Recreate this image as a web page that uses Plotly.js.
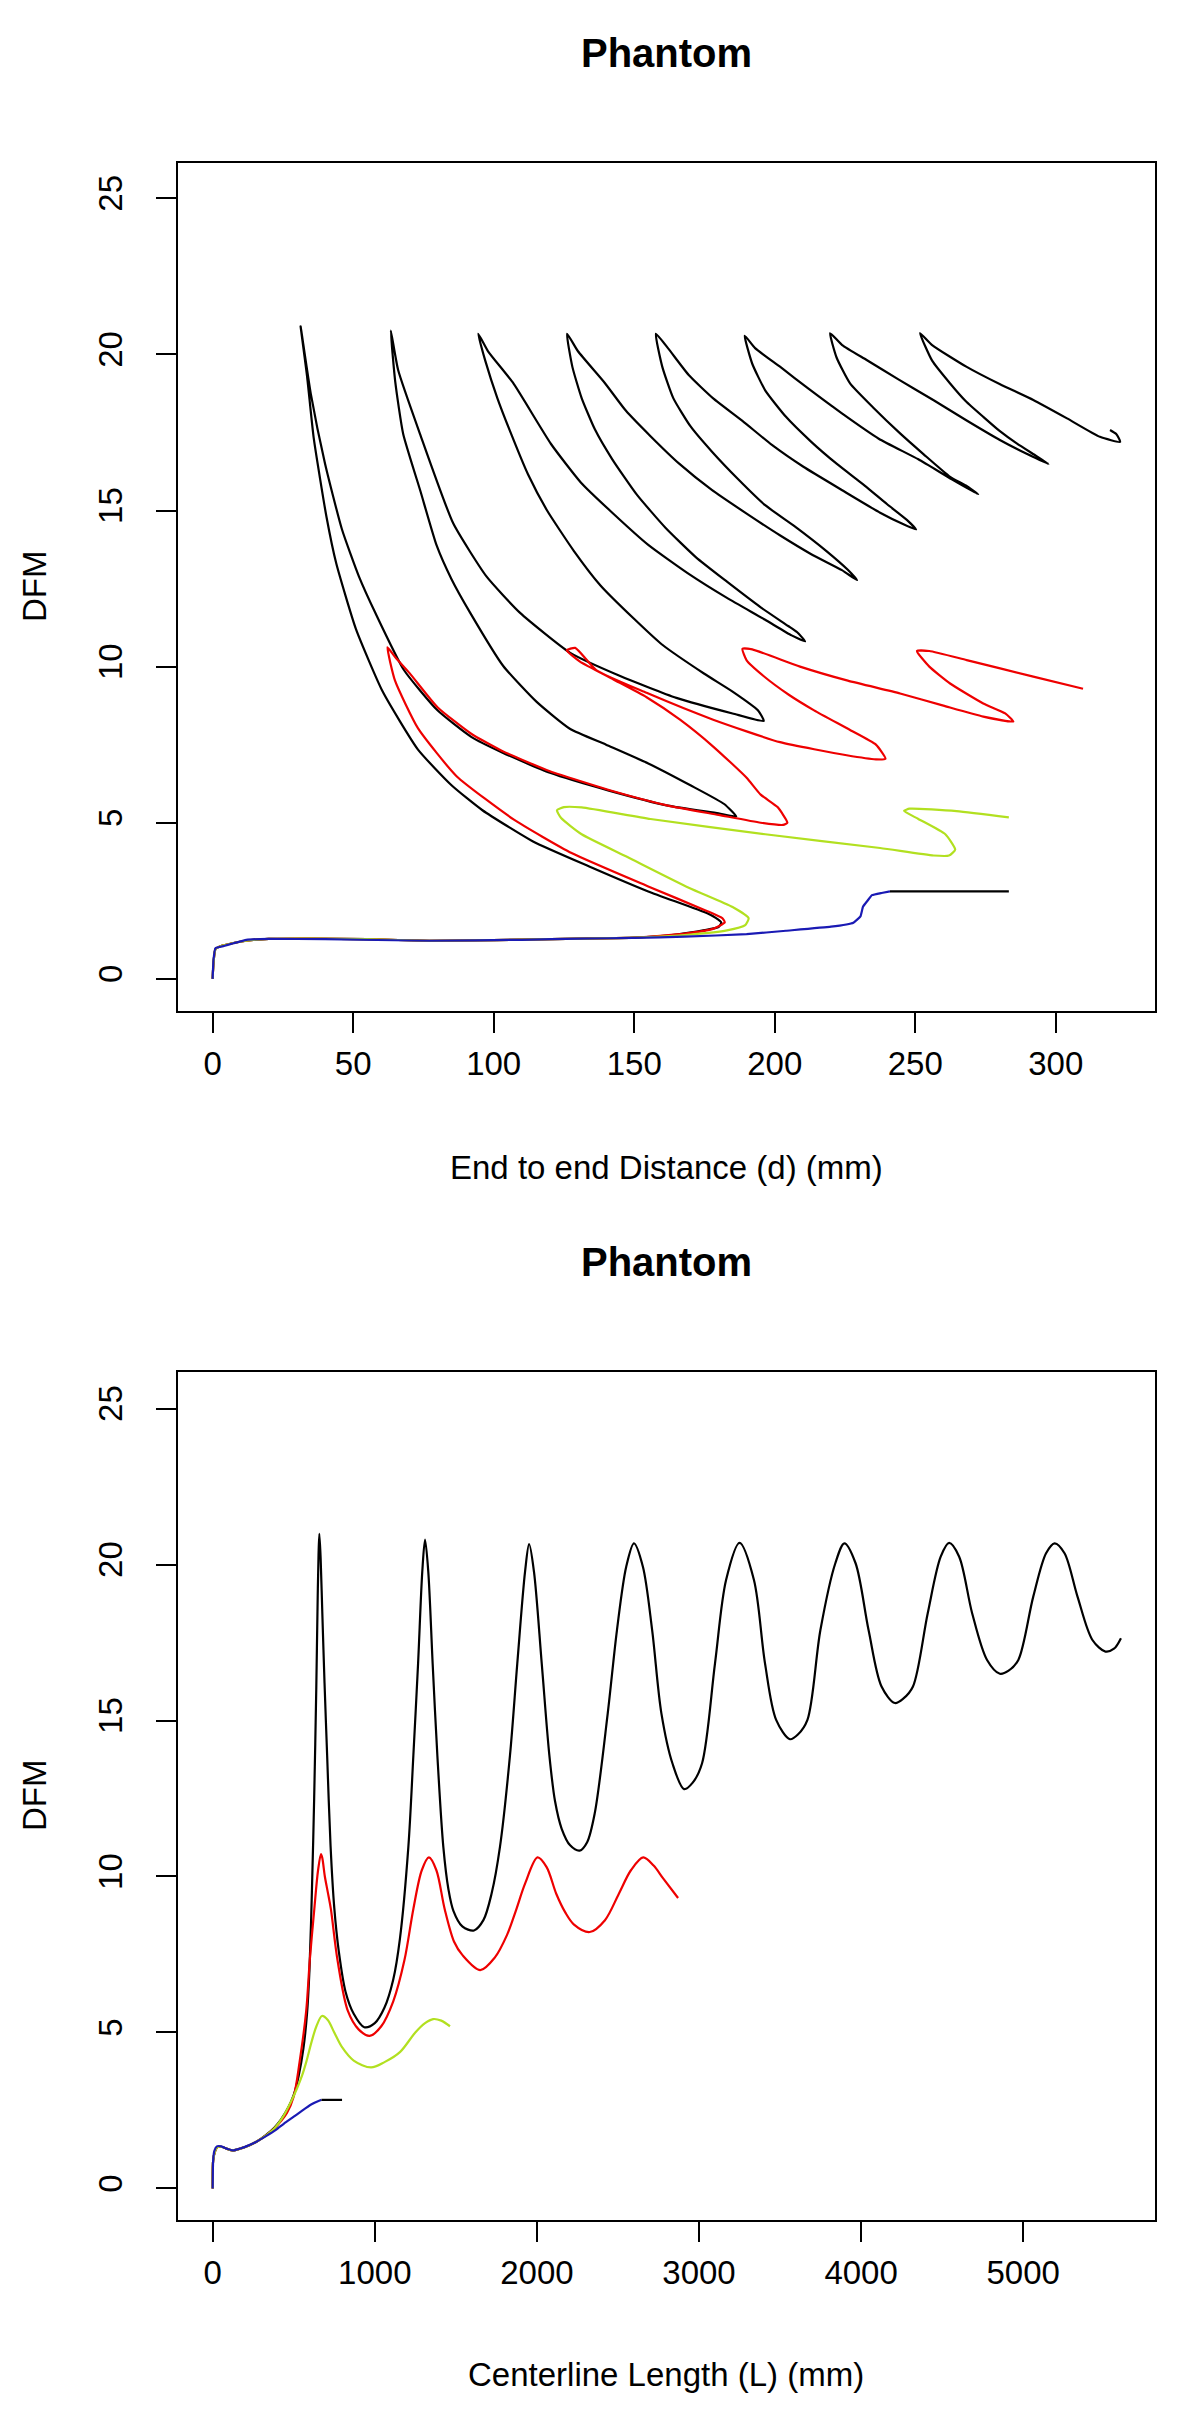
<!DOCTYPE html>
<html>
<head>
<meta charset="utf-8">
<script src="https://cdn.plot.ly/plotly-3.0.1.min.js"></script>
<style>
html,body{margin:0;padding:0;background:#fff;}
#chart{width:1200px;height:2427px;}
</style>
</head>
<body>
<div id="chart"></div>
<script>
// ---------- Panel 1: DFM vs end-to-end distance d (mm) ----------
var blackD = [0,0.3,1,3,7,12,20,35,55,77,100,131,150,165,175,180,181,179,176,155,134,114,96,85,73,60.5,51,44,40.5,36,33.6,31.3,
  34.9,40,46,52,58,68,80,92,103,120,141,162,180,186.3,
  182,170,155,140,127.1,115.3,103.4,91.6,85,79.7,74,67.8,65,63.4,
  66,73.8,85.6,97.5,109.3,127.1,145,165,185,196.1,
  194,185,174.8,160,150.3,138,128.5,119,112.2,106,101.3,97,94.5,
  98,106.8,120.4,131,142.2,155,169.4,183,196.6,206,210.8,
  208,204.8,195,183,172,161.2,151,142.2,136,131.3,128,126.1,
  130,139.4,147,155.8,166,177.6,190,202.1,213,223.9,229.3,
  226,218.4,207,196.6,187,177.6,170,163.9,160,157.7,
  162,169.4,178,188.5,199,210.2,224,237.5,246,250.3,
  247,240,232,222,213,204,196.6,192,189.3,
  193,202.1,212,223.9,237,251.1,263,272.4,
  268,262.4,253,244.6,235,226.8,222,219.7,
  224,232.7,244,256.4,268,280.1,290,297.4,
  293,286.1,280,274.2,268,262.4,256,251.7,
  256,268.3,280,292,304,315.7,322.9,321.5,319.3];
var blackDFM1 = [0,0.5,0.95,1.05,1.14,1.22,1.28,1.29,1.27,1.22,1.24,1.29,1.32,1.42,1.56,1.66,1.8,1.95,2.1,2.8,3.6,4.4,5.4,6.2,7.35,9.2,11.2,13.3,14.8,17.3,19.3,20.9,
  18.75,16.5,14.4,12.9,11.7,9.9,8.6,7.75,7.25,6.6,6.03,5.55,5.3,5.2,
  5.6,6.2,6.9,7.5,8.01,8.87,10.02,11.73,12.8,13.88,15.6,17.45,19.1,20.76,
  19.5,17.45,14.59,12.88,11.73,10.45,9.7,9.0,8.5,8.26,
  8.6,9.2,9.78,10.7,11.5,12.6,13.71,15.0,16.16,17.5,18.6,19.8,20.66,
  20.1,19.1,17.13,15.9,14.93,13.9,12.97,12.2,11.5,11.0,10.81,
  11.1,11.3,11.9,12.72,13.5,14.44,15.5,16.64,17.6,18.6,19.6,20.66,
  20.1,19.1,18.2,17.38,16.5,15.66,14.9,14.19,13.6,13.09,12.77,
  13.1,13.7,14.5,15.17,16.0,16.89,17.7,18.6,19.6,20.66,
  20.2,19.34,18.6,17.87,17.1,16.4,15.65,14.93,14.55,14.39,
  14.7,15.2,15.8,16.5,17.2,18.0,18.85,19.7,20.6,
  20.2,19.59,18.9,18.11,17.3,16.64,16.0,15.52,
  15.8,16.08,16.8,17.47,18.3,19.07,19.9,20.68,
  20.3,19.82,19.2,18.54,17.9,17.26,16.8,16.49,
  16.75,17.15,17.55,18.0,18.5,19.07,19.8,20.68,
  20.3,19.6,19.05,18.54,17.95,17.36,17.2,17.45,17.58];

var redD = [0,0.3,1,3,7,12,20,35,55,77,100,131,150,168,178,182.2,181.4,175.4,155,127.7,107.2,86.8,73.1,64.9,62.2,
  65,70,80,92,103,120,141,162,180,195,203,204.5,
  201,195,190,178.1,166.3,154.4,142.6,130.7,126,
  129,136.6,154.4,178.1,201.9,225.6,236,239.4,
  236,226.8,214,205,196,190,188.5,
  192,209,226,244.6,260,274.2,284.9,
  282,274.2,262.4,255,250.6,
  255,268.3,292,309.7];
var redDFM1 = [0,0.5,0.95,1.05,1.14,1.22,1.28,1.29,1.27,1.22,1.24,1.29,1.32,1.45,1.6,1.81,1.94,2.19,2.96,4.03,5.1,6.49,8.02,9.55,10.62,
  10.3,9.8,8.7,7.85,7.3,6.65,6.05,5.55,5.25,5.0,4.93,5.0,
  5.5,5.9,6.44,7.44,8.3,9.02,9.59,10.16,10.52,
  10.6,9.88,9.16,8.3,7.58,7.16,7.03,7.05,
  7.5,7.97,8.6,9.1,9.7,10.2,10.57,
  10.55,10.0,9.55,9.14,8.75,8.4,8.24,
  8.5,8.82,9.46,10.0,10.5,
  10.5,10.21,9.68,9.29];

var greenD = [0,0.3,1,3,7,12,20,35,55,77,100,131,150,170,183,189.5,190.7,185,169.4,147.6,131.3,124,122.5,125,131.3,155.8,196.6,237.5,256.5,262,264.2,260.7,251.1,246,248,264.7,283.3];
var greenDFM1 = [0,0.5,0.95,1.05,1.14,1.22,1.28,1.29,1.27,1.22,1.24,1.29,1.32,1.42,1.55,1.72,1.94,2.3,2.92,3.9,4.63,5.15,5.4,5.5,5.49,5.12,4.63,4.19,3.95,3.95,4.14,4.63,5.12,5.38,5.45,5.37,5.17];

var blueD = [0,0.3,1,4,7.4,12,20,40,77,110,131,150,168,190,204,220,228,230.5,231.4,233,234.6,238,241];
var blueDFM1 = [0,0.6,0.98,1.05,1.14,1.25,1.28,1.27,1.22,1.25,1.29,1.31,1.35,1.43,1.54,1.67,1.8,2.0,2.31,2.5,2.68,2.75,2.8];
var blueTailD = [241,283.3];
var blueTailDFM1 = [2.8,2.8];

// ---------- Panel 2: DFM vs centerline length L (mm) ----------
var blackL = [0,3,15,30,60,120,200,270,330,380,420,467,500,530,560,582,597,612,626,639,648,653,658,666,676,690,706,727,750,778,820,870,935,1000,1060,1114,1155,1207,1238,1267,1293,1310,1330,1357,1386,1423,1454,1485,1540,1612,1670,1721,1772,1834,1879,1927,1952,1982,2030,2077,2112,2153,2205,2264,2310,2357,2437,2494,2551,2599,2654,2711,2768,2836,2908,2960,3019,3099,3167,3250,3339,3407,3476,3561,3610,3669,3749,3841,3897,3966,4046,4126,4208,4260,4320,4411,4491,4543,4605,4685,4777,4856,4910,4970,5062,5141,5194,5255,5335,5427,5507,5560,5603];
var blackDFM2 = [0,0.9,1.2,1.33,1.33,1.22,1.33,1.5,1.72,1.95,2.2,2.6,3.0,3.6,4.5,5.6,7.0,9.5,12.5,16.0,19.0,20.3,20.98,20.2,18.5,16.2,13.9,11.0,9.0,7.6,6.3,5.6,5.17,5.3,5.8,6.7,8.0,10.94,13.88,16.82,19.77,20.8,19.77,16.82,13.88,10.94,9.6,8.9,8.4,8.27,8.6,9.46,10.94,13.88,16.82,19.77,20.65,19.77,16.82,13.88,12.41,11.53,11.0,10.83,11.1,12.03,15.23,17.9,19.93,20.68,19.93,17.9,15.23,13.63,12.8,13.0,13.63,16.84,19.5,20.69,19.5,16.84,15.02,14.4,14.55,15.02,17.9,20.04,20.68,20.04,17.9,16.09,15.56,15.7,16.09,18.44,20.25,20.69,20.25,18.44,16.94,16.5,16.6,16.94,18.97,20.36,20.68,20.36,18.97,17.58,17.21,17.3,17.64];

var redL = [0,3,15,30,60,120,200,270,330,380,420,458,500,536,577,599,627,650,668,676,692,710,729,770,834,900,968,1040,1114,1183,1238,1290,1334,1380,1431,1490,1541,1651,1740,1816,1870,1927,2004,2060,2120,2175,2229,2326,2420,2505,2580,2656,2720,2780,2871];
var redDFM2 = [0,0.9,1.2,1.33,1.33,1.22,1.33,1.5,1.7,1.92,2.15,2.42,2.95,4.05,5.69,7.32,8.96,10.2,10.72,10.6,10.0,9.5,8.96,7.32,5.69,5.1,4.89,5.2,6.0,7.32,8.96,10.2,10.61,10.2,8.96,7.9,7.48,7.0,7.4,8.13,8.9,9.77,10.61,10.3,9.44,8.85,8.46,8.22,8.6,9.44,10.2,10.61,10.35,9.93,9.31];

var greenL = [0,3,15,30,60,120,200,270,330,380,440,480,522,550,577,610,640,674,710,750,798,870,977,1060,1155,1250,1310,1360,1410,1464];
var greenDFM2 = [0,0.9,1.2,1.33,1.33,1.22,1.33,1.5,1.7,1.92,2.35,2.75,3.23,3.6,4.05,4.7,5.2,5.53,5.4,5.0,4.53,4.1,3.88,4.05,4.37,5.0,5.3,5.43,5.38,5.2];

var blueL = [0,3,10,26,53,90,123,170,207,270,329,390,440,500,550,610,660,671];
var blueDFM2 = [0,0.9,1.2,1.35,1.35,1.27,1.22,1.28,1.35,1.5,1.68,1.88,2.08,2.3,2.49,2.7,2.82,2.84];
var blueTailL = [671,798];
var blueTailDFM2 = [2.84,2.84];

var xTicks1 = [0,50,100,150,200,250,300];
var xTicks2 = [0,1000,2000,3000,4000,5000];
var yTicks = [0,5,10,15,20,25];

var colBlack = '#000000', colRed = '#ee0000', colGreen = '#b2e020', colBlue = '#1a1ab4';
var LW = 2.2;

function tr(x, y, c, xa, ya, sm) {
  return {x: x, y: y, type: 'scatter', mode: 'lines',
          line: {color: c, width: LW, shape: 'spline', smoothing: sm},
          xaxis: xa, yaxis: ya, hoverinfo: 'skip'};
}

var data = [
  tr(blackD, blackDFM1, colBlack, 'x', 'y', 0.5),
  tr(redD, redDFM1, colRed, 'x', 'y', 0.5),
  tr(greenD, greenDFM1, colGreen, 'x', 'y', 0.5),
  tr(blueD, blueDFM1, colBlue, 'x', 'y', 0.3),
  tr(blueTailD, blueTailDFM1, colBlack, 'x', 'y', 0),
  tr(blackL, blackDFM2, colBlack, 'x2', 'y2', 0.9),
  tr(redL, redDFM2, colRed, 'x2', 'y2', 0.9),
  tr(greenL, greenDFM2, colGreen, 'x2', 'y2', 0.9),
  tr(blueL, blueDFM2, colBlue, 'x2', 'y2', 0.6),
  tr(blueTailL, blueTailDFM2, colBlack, 'x2', 'y2', 0)
];

var W = 1200, H = 2427;
var FONT = 'Liberation Sans, Arial, Helvetica, sans-serif';
function px(x) { return x / W; }
function py(y) { return 1 - y / H; }

function axisBase(extra) {
  var a = {showgrid: false, zeroline: false, showline: true, mirror: true,
    linecolor: '#000', linewidth: 2, ticks: 'outside', ticklen: 20, tickwidth: 2,
    tickcolor: '#000', tickfont: {family: FONT, size: 33, color: '#000'}, fixedrange: true};
  for (var k in extra) a[k] = extra[k];
  return a;
}

var plotL = 177.5, plotR = 1155;
var p1T = 163, p1B = 1011, p2T = 1372, p2B = 2220;

var layout = {
  width: W, height: H,
  margin: {l: 0, r: 0, t: 0, b: 0, pad: 0},
  paper_bgcolor: '#fff', plot_bgcolor: '#fff',
  showlegend: false,
  font: {family: FONT, color: '#000'},
  xaxis: axisBase({domain: [px(plotL), px(plotR)], range: [-12.5, 335.3], tickvals: xTicks1,
    ticktext: xTicks1.map(String), anchor: 'y', ticklabelposition: 'outside', ticklabelstandoff: 2}),
  yaxis: axisBase({domain: [py(p1B), py(p1T)], range: [-1.03, 26.13], tickvals: yTicks,
    ticktext: yTicks.map(String), tickangle: -90, anchor: 'x', ticklabelstandoff: 20}),
  xaxis2: axisBase({domain: [px(plotL), px(plotR)], range: [-217, 5813], tickvals: xTicks2,
    ticktext: xTicks2.map(String), anchor: 'y2', ticklabelposition: 'outside', ticklabelstandoff: 2}),
  yaxis2: axisBase({domain: [py(p2B), py(p2T)], range: [-1.01, 26.17], tickvals: yTicks,
    ticktext: yTicks.map(String), tickangle: -90, anchor: 'x2', ticklabelstandoff: 20}),
  annotations: [
    {text: '<b>Phantom</b>', x: px((plotL + plotR) / 2), y: py(53), xref: 'paper', yref: 'paper',
      xanchor: 'center', yanchor: 'middle', showarrow: false, font: {family: FONT, size: 40, color: '#000'}},
    {text: 'End to end Distance (d) (mm)', x: px((plotL + plotR) / 2), y: py(1167), xref: 'paper', yref: 'paper',
      xanchor: 'center', yanchor: 'middle', showarrow: false, font: {family: FONT, size: 33, color: '#000'}},
    {text: 'DFM', x: px(34), y: py((p1T + p1B) / 2), xref: 'paper', yref: 'paper', textangle: -90,
      xanchor: 'center', yanchor: 'middle', showarrow: false, font: {family: FONT, size: 33, color: '#000'}},
    {text: '<b>Phantom</b>', x: px((plotL + plotR) / 2), y: py(1262), xref: 'paper', yref: 'paper',
      xanchor: 'center', yanchor: 'middle', showarrow: false, font: {family: FONT, size: 40, color: '#000'}},
    {text: 'Centerline Length (L) (mm)', x: px((plotL + plotR) / 2), y: py(2374), xref: 'paper', yref: 'paper',
      xanchor: 'center', yanchor: 'middle', showarrow: false, font: {family: FONT, size: 33, color: '#000'}},
    {text: 'DFM', x: px(34), y: py((p2T + p2B) / 2), xref: 'paper', yref: 'paper', textangle: -90,
      xanchor: 'center', yanchor: 'middle', showarrow: false, font: {family: FONT, size: 33, color: '#000'}}
  ]
};

Plotly.newPlot('chart', data, layout, {staticPlot: true, displayModeBar: false});
</script>
</body>
</html>
